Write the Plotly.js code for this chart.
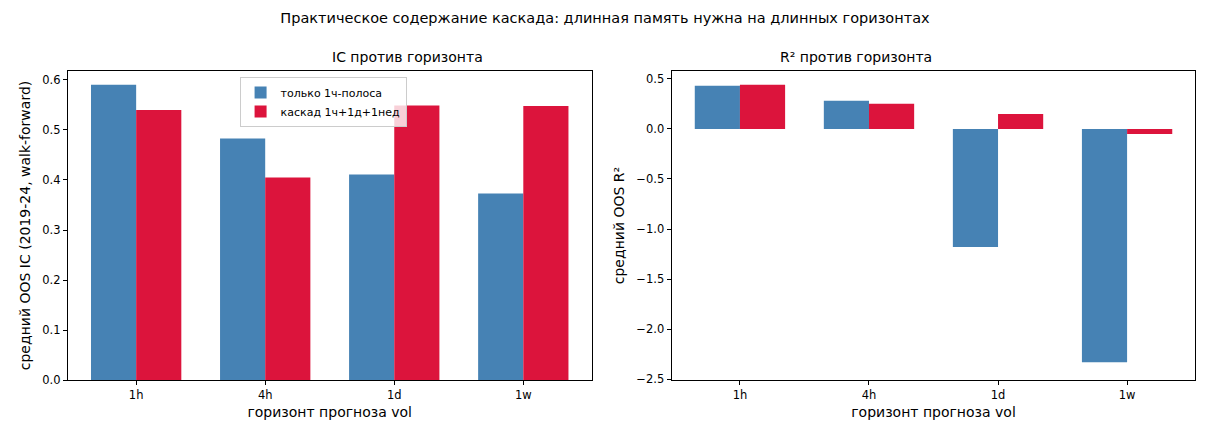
<!DOCTYPE html>
<html><head><meta charset="utf-8">
<script src="https://cdn.plot.ly/plotly-3.0.1.min.js"></script>
<style>body{margin:0}</style></head>
<body><div id="graf" style="width:1210px;height:440px"></div>
<script>
const horizons = ['1h', '4h', '1d', '1w'];
const icOnly = [0.590, 0.483, 0.411, 0.373];
const icCascade = [0.540, 0.405, 0.549, 0.548];
const r2Only = [0.43, 0.28, -1.18, -2.33];
const r2Cascade = [0.44, 0.25, 0.15, -0.05];

const blue = '#4682b4', red = '#dc143c';
const font = {family: 'DejaVu Sans', size: 12, color: '#000'};

function bars(y, name, color, ax, show) {
    return {x: horizons, y: y, type: 'bar', name: name, marker: {color: color},
        xaxis: 'x' + ax, yaxis: 'y' + ax, showlegend: show};
}

let graph = [
    bars(icOnly, 'только 1ч-полоса', blue, '', true),
    bars(icCascade, 'каскад 1ч+1д+1нед', red, '', true),
    bars(r2Only, 'только 1ч-полоса', blue, '2', false),
    bars(r2Cascade, 'каскад 1ч+1д+1нед', red, '2', false)
];

const axisStyle = {showline: true, mirror: true, linecolor: '#000', linewidth: 1,
    ticks: 'outside', ticklen: 4, tickcolor: '#000', showgrid: false, zeroline: false,
    tickfont: {size: 11.5}};

let layout = {
    font: font, barmode: 'group', bargap: 0.3, bargroupgap: 0,
    margin: {l: 0, r: 0, t: 0, b: 0},
    plot_bgcolor: '#fff', paper_bgcolor: '#fff',
    title: {text: 'Практическое содержание каскада: длинная память нужна на длинных горизонтах',
        x: 0.5, y: 0.96, xanchor: 'center', yanchor: 'middle', font: {size: 14.5}},
    xaxis: Object.assign({}, axisStyle, {domain: [0.056, 0.489], range: [-0.53, 3.53], anchor: 'y',
        title: {text: 'горизонт прогноза vol', standoff: 6}}),
    yaxis: Object.assign({}, axisStyle, {domain: [0.136, 0.839], range: [0, 0.618], dtick: 0.1,
        tickformat: '.1f', anchor: 'x', title: {text: 'средний OOS IC (2019-24, walk-forward)', standoff: 8}}),
    xaxis2: Object.assign({}, axisStyle, {domain: [0.555, 0.988], range: [-0.53, 3.53], anchor: 'y2',
        title: {text: 'горизонт прогноза vol', standoff: 6}}),
    yaxis2: Object.assign({}, axisStyle, {domain: [0.136, 0.839], range: [-2.51, 0.58], dtick: 0.5,
        tickformat: '.1f', anchor: 'x2', title: {text: 'средний OOS R²', standoff: 8}}),
    legend: {x: 0.198, y: 0.825, xanchor: 'left', yanchor: 'top', bgcolor: 'rgba(255,255,255,0.8)',
        bordercolor: '#ccc', borderwidth: 1, font: {size: 11}},
    annotations: [
        {text: 'IC против горизонта', x: 0.2725, y: 0.87, xref: 'paper', yref: 'paper',
            showarrow: false, font: {size: 14}, yanchor: 'middle'},
        {text: 'R² против горизонта', x: 0.7715, y: 0.87, xref: 'paper', yref: 'paper',
            showarrow: false, font: {size: 14}, yanchor: 'middle'}
    ]
};

Plotly.newPlot('graf', graph, layout, {displayModeBar: false});
</script></body></html>
